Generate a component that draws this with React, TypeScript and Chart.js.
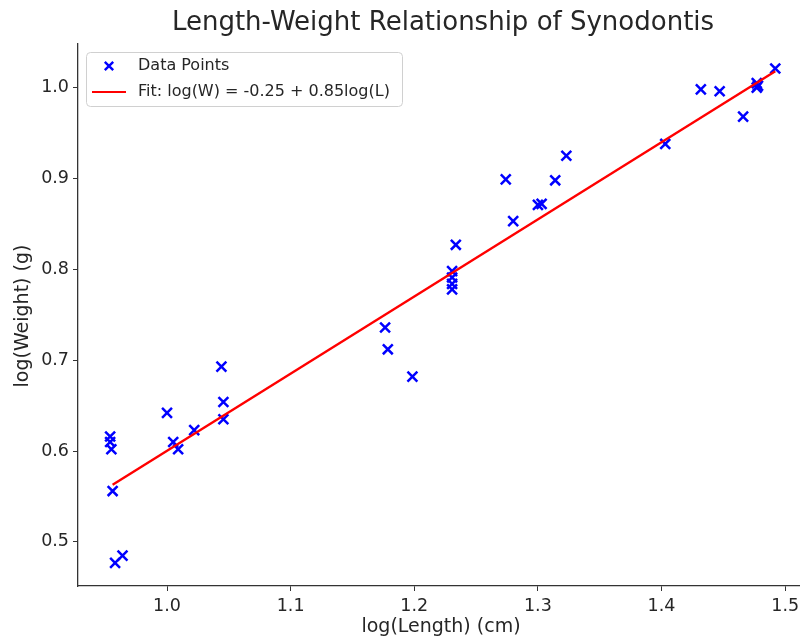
import React, { useEffect, useRef } from "react";
import { Chart, registerables } from "chart.js";

Chart.register(...registerables);

const titleText = "Length-Weight Relationship of Synodontis";
const xLabel = "log(Length) (cm)";
const yLabel = "log(Weight) (g)";
const pointsLabel = "Data Points";
const fitLabel = "Fit: log(W) = -0.25 + 0.85log(L)";

const lengthLog = [
  0.954, 0.954, 0.955, 0.956, 0.958, 0.964, 1.0, 1.005, 1.009, 1.022,
  1.044, 1.0456, 1.0456, 1.1764, 1.1786, 1.1985, 1.2306, 1.2306, 1.2306,
  1.2306, 1.2336, 1.274, 1.28, 1.3, 1.303, 1.314, 1.323, 1.403, 1.4318,
  1.447, 1.466, 1.477, 1.477, 1.478, 1.492,
];
const weightLog = [
  0.616, 0.61, 0.602, 0.556, 0.477, 0.485, 0.642, 0.61, 0.602, 0.623,
  0.693, 0.654, 0.635, 0.736, 0.712, 0.682, 0.798, 0.791, 0.784,
  0.778, 0.827, 0.899, 0.853, 0.871, 0.872, 0.898, 0.925, 0.938, 0.998,
  0.996, 0.968, 1.005, 1.0, 1.002, 1.021,
];
const fitX = [0.956, 1.492];
const fitY = [0.563, 1.018];
const xTicks = [1.0, 1.1, 1.2, 1.3, 1.4, 1.5];
const yTicks = [0.5, 0.6, 0.7, 0.8, 0.9, 1.0];

const FONT = "'DejaVu Sans', sans-serif";
const TEXT = "#262626";

const overlay = {
  id: "overlay",
  afterDraw(chart: any) {
    const ctx = chart.ctx;
    ctx.save();
    ctx.fillStyle = TEXT;
    ctx.textAlign = "center";
    ctx.textBaseline = "middle";
    ctx.font = `26px ${FONT}`;
    ctx.fillText(titleText, 443, 23);
    ctx.font = `19px ${FONT}`;
    ctx.fillText(xLabel, 441, 627);
    ctx.save();
    ctx.translate(23, 316);
    ctx.rotate(-Math.PI / 2);
    ctx.fillText(yLabel, 0, 0);
    ctx.restore();

    // legend
    const lx = 86, ly = 52, lw = 316, lh = 54;
    ctx.beginPath();
    ctx.roundRect(lx + 0.5, ly + 0.5, lw, lh, 4);
    ctx.fillStyle = "rgba(255,255,255,0.85)";
    ctx.fill();
    ctx.strokeStyle = "#d0d0d0";
    ctx.lineWidth = 1;
    ctx.stroke();

    const ds0 = chart.data.datasets[0];
    const ds1 = chart.data.datasets[1];
    ctx.strokeStyle = ds0.borderColor;
    ctx.lineWidth = 2.4;
    const mx = 109, my = 66, r = 4.2;
    ctx.beginPath();
    ctx.moveTo(mx - r, my - r);
    ctx.lineTo(mx + r, my + r);
    ctx.moveTo(mx - r, my + r);
    ctx.lineTo(mx + r, my - r);
    ctx.stroke();
    ctx.strokeStyle = ds1.borderColor;
    ctx.lineWidth = 2.2;
    ctx.beginPath();
    ctx.moveTo(92, 92);
    ctx.lineTo(126, 92);
    ctx.stroke();

    ctx.fillStyle = TEXT;
    ctx.textAlign = "left";
    ctx.font = `16px ${FONT}`;
    ctx.fillText(ds0.label, 138, 66);
    ctx.fillText(ds1.label, 138, 92);
    ctx.restore();
  },
};

export default function App() {
  const ref = useRef<HTMLCanvasElement>(null);
  useEffect(() => {
    if (!ref.current) return;
    const chart = new Chart(ref.current, {
      type: "scatter",
      data: {
        datasets: [
          {
            label: pointsLabel,
            data: lengthLog.map((x, i) => ({ x, y: weightLog[i] })),
            pointStyle: "crossRot",
            pointRadius: 7,
            pointBorderWidth: 2.5,
            borderColor: "#0000ff",
            backgroundColor: "#0000ff",
            showLine: false,
            order: 2,
          },
          {
            label: fitLabel,
            data: fitX.map((x, i) => ({ x, y: fitY[i] })),
            showLine: true,
            borderColor: "#ff0000",
            borderWidth: 2.4,
            pointRadius: 0,
            order: 1,
          } as any,
        ],
      },
      plugins: [overlay],
      options: {
        responsive: false,
        animation: false,
        layout: { autoPadding: false, padding: { top: 44, left: 0, right: 0, bottom: 0 } },
        plugins: {
          legend: { display: false },
          title: { display: false },
          tooltip: { enabled: false },
        },
        scales: {
          x: {
            type: "linear",
            min: 0.928,
            max: 1.512,
            afterBuildTicks: (s: any) => {
              s.ticks = xTicks.map((v) => ({ value: v }));
            },
            afterFit: (s: any) => {
              s.height = 56;
              s.paddingLeft = 0;
              s.paddingRight = 0;
            },
            ticks: {
              autoSkip: false,
              maxRotation: 0,
              color: TEXT,
              font: { family: FONT, size: 17.5 },
              padding: 5,
              callback: (v: any) => Number(v).toFixed(1),
            },
            grid: {
              drawOnChartArea: false,
              drawTicks: true,
              tickLength: 5,
              color: "#333",
              tickWidth: 1,
            },
            border: { display: true, color: "#333", width: 1.3 },
          },
          y: {
            type: "linear",
            min: 0.4515,
            max: 1.048,
            afterBuildTicks: (s: any) => {
              s.ticks = yTicks.map((v) => ({ value: v }));
            },
            afterFit: (s: any) => {
              s.width = 78;
              s.paddingTop = 0;
              s.paddingBottom = 0;
            },
            ticks: {
              autoSkip: false,
              color: TEXT,
              font: { family: FONT, size: 17.5 },
              padding: 4,
              callback: (v: any) => Number(v).toFixed(1),
            },
            grid: {
              drawOnChartArea: false,
              drawTicks: true,
              tickLength: 5,
              color: "#333",
              tickWidth: 1,
            },
            border: { display: true, color: "#333", width: 1.3 },
          },
        },
      },
    });
    return () => chart.destroy();
  }, []);
  return (
    <div style={{ position: "absolute", left: 0, top: 0, width: 800, height: 642, background: "#fff" }}>
      <canvas ref={ref} width={800} height={642} style={{ display: "block" }} />
    </div>
  );
}
